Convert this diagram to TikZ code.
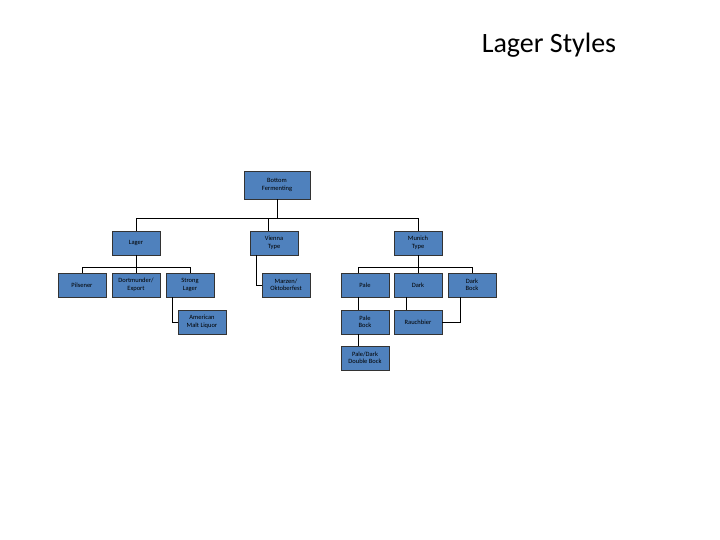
\documentclass[tikz,border=0pt]{standalone}
\usepackage{fontspec}
\setmainfont{Carlito}
\begin{document}
\begin{tikzpicture}[x=1pt,y=-1pt,
  box/.style={draw=black!80,fill=boxblue,minimum width=48pt,minimum height=24pt,inner sep=1pt,align=center,font=\fontsize{6.5}{7.5}\selectfont,line width=0.6pt},
  conn/.style={draw=black,line width=0.8pt}]
\definecolor{boxblue}{HTML}{4F81BD}
\useasboundingbox (0,0) rectangle (720,540);
\node[font=\fontsize{28}{32}\selectfont] (title) at (549,45) {Lager Styles};
\node[box,minimum width=66pt,minimum height=28pt] (bf) at (277,185) {Bottom\\Fermenting};
\node[box] (lager) at (136,243) {Lager};
\node[box] (vienna) at (274,243) {Vienna\\Type};
\node[box] (munich) at (418,243) {Munich\\Type};
\node[box] (pils) at (82,285) {Pilsener};
\node[box] (dort) at (136,285) {Dortmunder/\\Export};
\node[box] (strong) at (190,285) {Strong\\Lager};
\node[box] (aml) at (202,322) {American\\Malt Liquor};
\node[box] (marzen) at (286,285) {Marzen/\\Oktoberfest};
\node[box] (pale) at (365,285) {Pale};
\node[box] (dark) at (418,285) {Dark};
\node[box] (darkbock) at (472,285) {Dark\\Bock};
\node[box] (palebock) at (365,322) {Pale\\Bock};
\node[box] (pdbock) at (365,358) {Pale/Dark\\Double Bock};
\node[box] (rauch) at (418,322) {Rauchbier};
\coordinate (j1) at (277,218);
\coordinate (j2) at (136,267);
\coordinate (j3) at (418,267);
\draw[conn] (bf.south) -- (j1);
\draw[conn] (j1) -| (lager.north);
\draw[conn] (j1) -| (munich.north);
\draw[conn] (vienna.north -| 268,0) |- (j1);
\draw[conn] (lager.south) -- (j2);
\draw[conn] (j2) -| (pils.north);
\draw[conn] (j2) -| (strong.north);
\draw[conn] (j2) -- (dort.north);
\draw[conn] (munich.south) -- (j3);
\draw[conn] (j3) -| (pale.north -| 358,0);
\draw[conn] (j3) -| (darkbock.north);
\draw[conn] (j3) -- (dark.north);
\draw[conn] (strong.south -| 172,0) |- (aml.west);
\draw[conn] (vienna.south -| 256,0) |- (marzen.west);
\draw[conn] (pale.south -| 358,0) -- (palebock.north -| 358,0);
\draw[conn] (palebock.south -| 358,0) -- (pdbock.north -| 358,0);
\draw[conn] (dark.south -| 406,0) -- (rauch.north -| 406,0);
\draw[conn] (darkbock.south -| 460,0) |- (rauch.east);
\end{tikzpicture}
\end{document}
